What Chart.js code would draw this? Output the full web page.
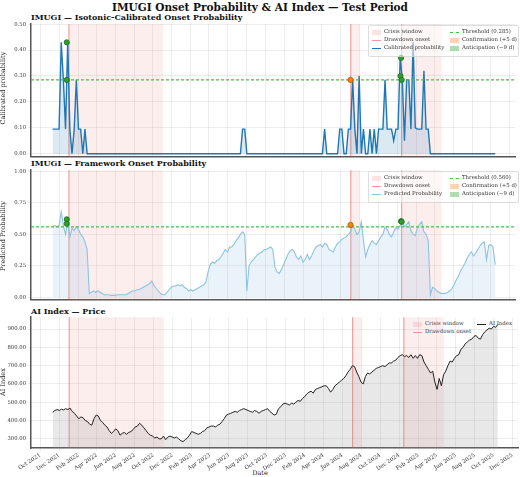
<!DOCTYPE html>
<html><head><meta charset="utf-8">
<script src="https://cdn.jsdelivr.net/npm/chart.js@4.4.1/dist/chart.umd.min.js"></script>
<style>
body{margin:0;width:520px;height:477px;background:#fff;position:relative;font-family:"DejaVu Serif",serif;overflow:hidden}
canvas{position:absolute;left:0}
#c3{z-index:2}
.t{position:absolute;font-weight:bold;color:#111;white-space:nowrap}
.yt{position:absolute;font-size:6.5px;color:#222;transform:rotate(-90deg);transform-origin:center;white-space:nowrap}
.lg{position:absolute;background:rgba(255,255,255,0.55);border:1px solid rgba(200,200,200,0.6);border-radius:2px;font-size:5.4px;color:#333;z-index:1}
.it{position:absolute;white-space:nowrap}
.sw{position:absolute;display:inline-block}
</style></head><body>
<div class="t" style="left:0;width:520px;text-align:center;top:1px;font-size:10.5px">IMUGI Onset Probability &amp; AI Index — Test Period</div>
<div class="t" style="left:31px;top:12px;font-size:8px">IMUGI — Isotonic-Calibrated Onset Probability</div>
<div class="t" style="left:31px;top:158px;font-size:8px">IMUGI — Framework Onset Probability</div>
<div class="t" style="left:31px;top:306px;font-size:8px">AI Index — Price</div>
<canvas id="c1" width="520" height="143" style="top:19px;width:520px;height:143px"></canvas>
<canvas id="c2" width="520" height="140" style="top:165px;width:520px;height:140px"></canvas>
<canvas id="c3" width="520" height="160" style="top:312px;width:520px;height:160px"></canvas>
<div class="yt" style="left:-37px;top:84px;width:80px;text-align:center">Calibrated probability</div>
<div class="yt" style="left:-37px;top:232px;width:80px;text-align:center">Predicted Probability</div>
<div class="yt" style="left:-37px;top:378px;width:80px;text-align:center">AI Index</div>
<div style="position:absolute;left:0;width:520px;text-align:center;top:469px;font-size:6.5px;color:#222">Date</div>
<div id="legends"></div>
<script>
const startDate='2021-11-10', stepDays=7;
const price=[445,455,460,455,462,458,465,460,468,450,440,425,410,420,415,400,395,380,375,410,430,425,400,390,375,365,345,330,340,355,345,320,330,335,325,335,340,350,365,370,385,375,360,345,330,320,315,305,310,300,300,315,295,310,315,310,305,310,300,290,285,295,305,320,340,335,330,325,330,340,345,360,365,370,370,365,375,380,395,410,430,435,440,445,450,445,455,460,465,460,455,450,445,455,450,440,450,455,460,465,450,440,430,435,465,475,490,495,490,485,495,490,500,510,505,520,530,545,555,560,550,570,575,580,585,590,590,575,555,570,590,600,610,620,630,645,665,680,700,695,665,640,610,600,640,660,655,665,675,685,690,695,700,695,705,715,715,725,730,745,755,760,750,755,745,760,740,755,740,760,755,720,700,680,660,670,610,570,630,590,650,670,700,725,720,740,755,760,790,800,820,830,840,845,860,865,850,845,870,885,895,905,900,915,910,925];
const predicted=[.56,.57,.56,.57,.68,.57,.50,.60,.48,.55,.53,.56,.54,.50,.48,.44,.38,.03,.04,.05,.04,.05,.04,.03,.02,.02,.02,.015,.015,.015,.02,.02,.02,.02,.02,.03,.04,.05,.05,.06,.06,.07,.08,.09,.10,.11,.13,.09,.07,.05,.03,.02,.02,.04,.06,.08,.09,.09,.10,.09,.10,.08,.07,.05,.06,
.05,.06,.07,.08,.09,.10,.12,.20,.26,.28,.27,.29,.30,.32,.35,.38,.36,.40,.40,.42,.45,.47,.50,.52,.50,.05,.25,.28,.30,.32,.34,.35,.36,.38,.38,.39,.40,.38,.24,.20,.19,.22,.26,.30,.34,.37,.38,.36,.32,.30,.33,.28,.30,.34,.30,.33,.37,.40,.41,.42,.40,.43,.42,.38,.37,.36,.40,.43,.44,.46,.47,.48,.50,.52,.57,.54,.50,.52,.60,.45,.32,.38,.42,.45,.43,.42,.45,.48,.50,.56,.54,.50,.48,.52,.55,.54,.57,.60,.56,.58,.60,.53,.50,.49,.55,.58,.60,.52,.50,.45,.02,.08,.07,.05,.04,.03,.03,.03,.04,.05,.07,.10,.14,.17,.21,.24,.27,.31,.34,.36,.33,.35,.38,.41,.43,.44,.30,.41,.42,.40,.26];
const calibrated=[.095,.095,.095,.095,.43,.285,.095,.43,.095,0,.095,.285,.095,.095,0,.095,0,0,0,0,0,0,0,0,0,0,0,0,0,0,0,0,0,0,0,0,0,0,0,0,0,0,0,0,0,0,0,0,0,0,0,0,0,0,0,0,0,0,0,0,0,0,0,0,0,0,0,0,0,0,0,0,0,0,0,0,0,0,0,0,0,0,0,0,0,0,0,0,.095,.095,0,0,0,0,0,0,0,0,0,0,0,0,0,0,0,0,0,0,0,0,0,0,0,0,0,0,0,0,0,0,0,0,0,0,0,0,.095,0,0,0,0,0,0,.095,.095,0,0,.095,.095,.285,.095,0,.30,0,.095,0,0,.095,0,.095,0,.095,.095,.095,.285,.095,.095,.095,.05,.095,.095,.37,.285,.05,.285,.285,.095,.43,.10,.095,.095,.095,.32,.095,.095,0,0,0,0,0,0,0,0,0,0,0,0,0,0,0,0,0,0,0,0,0,0,0,0,0,0,0,0,0,0,0];
const crisisWindows=[['2022-01-02','2022-11-03'],['2024-07-04','2024-08-01'],['2024-12-16','2025-04-24']];
const onsets=['2022-01-02','2024-07-04','2024-12-16'];
const tickLabels=['Oct 2021','Dec 2021','Feb 2022','Apr 2022','Jun 2022','Aug 2022','Oct 2022','Dec 2022','Feb 2023','Apr 2023','Jun 2023','Aug 2023','Oct 2023','Dec 2023','Feb 2024','Apr 2024','Jun 2024','Aug 2024','Oct 2024','Dec 2024','Feb 2025','Apr 2025','Jun 2025','Aug 2025','Oct 2025','Dec 2025'];
const calThreshold=0.285, predThreshold=0.56;
const calGreen=[['2021-12-26',.43],['2021-12-26',.285],['2024-12-14',.37],['2024-12-12',.30],['2024-12-16',.285]];
const calOrange=[['2024-07-03',.285]];
const predGreen=[['2021-12-26',.62],['2021-12-26',.585],['2024-12-14',.605],['2024-12-16',.60]];
const predOrange=[['2024-07-03',.575]];

const MON={Jan:0,Feb:1,Mar:2,Apr:3,May:4,Jun:5,Jul:6,Aug:7,Sep:8,Oct:9,Nov:10,Dec:11};
const BASE=Date.UTC(2021,8,1);
const dayOf=s=>{const [y,m,d]=s.split('-').map(Number);return (Date.UTC(y,m-1,d)-BASE)/86400000;};
const startDay=dayOf(startDate);
const xs=price.map((_,i)=>startDay+i*stepDays);
const tickDays=tickLabels.map(l=>{const [m,y]=l.split(' ');return (Date.UTC(+y,MON[m],1)-BASE)/86400000;});
const pts=a=>a.map((v,i)=>({x:xs[i],y:v}));
const mk=a=>a.map(([d,v])=>({x:dayOf(d),y:v}));
Chart.defaults.font={family:'DejaVu Serif',size:6}; Chart.defaults.color='#333';

const shade={id:'shade',beforeDatasetsDraw(ch){const {ctx,chartArea:a,scales:{x}}=ch;ctx.save();
 ctx.fillStyle='rgba(240,120,120,0.13)';
 crisisWindows.forEach(([s,e])=>{const x0=x.getPixelForValue(dayOf(s)),x1=x.getPixelForValue(dayOf(e));ctx.fillRect(x0,a.top,x1-x0,a.bottom-a.top);});
 ctx.strokeStyle='rgba(220,60,60,0.55)';ctx.lineWidth=1;
 onsets.forEach(s=>{const px=x.getPixelForValue(dayOf(s));ctx.beginPath();ctx.moveTo(px,a.top);ctx.lineTo(px,a.bottom);ctx.stroke();});
 ctx.restore();}};

function make(id,datasets,ymin,ymax,step,fmt,showX){
 return new Chart(document.getElementById(id),{type:'line',data:{datasets},
 options:{animation:false,responsive:false,devicePixelRatio:1,
  layout:{padding:{left:0,right:2,top:0,bottom:0}},
  plugins:{legend:{display:false},tooltip:{enabled:false}},
  elements:{point:{radius:0}},
  scales:{
   x:{type:'linear',min:0,max:1570,
    afterBuildTicks:s=>{s.ticks=tickDays.map(v=>({value:v}));},
    afterFit:s=>{if(!showX)s.height=2;else s.height=24;},
    ticks:{display:showX,autoSkip:false,minRotation:33,maxRotation:33,padding:1,font:{family:'DejaVu Serif',size:5.5},
      callback:(v,i)=>tickLabels[i]},
    grid:{color:'rgba(0,0,0,0.07)',drawTicks:showX,tickLength:3},
    border:{color:'#555',width:1.5}},
   y:{min:ymin,max:ymax,
    afterBuildTicks:s=>{const t=[];for(let v=step.from;v<=step.to+1e-9;v+=step.by)t.push({value:v});s.ticks=t;},
    afterFit:s=>{s.width=31;},
    ticks:{callback:fmt,padding:2,font:{family:'DejaVu Serif',size:5.3}},
    grid:{color:'rgba(0,0,0,0.07)',tickLength:3},
    border:{color:'#555',width:1.5}}}},
 plugins:[shade]});
}
const thr=v=>({data:[{x:0,y:v},{x:1570,y:v}],borderColor:'#4cbb4c',borderWidth:1.2,borderDash:[3,2],fill:false,pointRadius:0});
const sc=(d,c,b)=>({type:'scatter',data:d,backgroundColor:c,borderColor:b,borderWidth:0.8,pointRadius:2.6});

make('c1',[
 sc(mk(calGreen),'#2ca02c','#1a6e1a'),sc(mk(calOrange),'#ff7f0e','#b35400'),
 thr(calThreshold),
 {data:pts(calibrated),borderColor:'#1f77b4',borderWidth:1.4,fill:'origin',backgroundColor:'rgba(31,119,180,0.16)',tension:0}
],-0.012,0.5,{from:0,to:0.5,by:0.1},v=>v.toFixed(2),false);

make('c2',[
 sc(mk(predGreen),'#2ca02c','#1a6e1a'),sc(mk(predOrange),'#ff7f0e','#b35400'),
 thr(predThreshold),
 {data:pts(predicted),borderColor:'#8ec3e0',borderWidth:1.1,fill:'origin',backgroundColor:'rgba(140,190,225,0.18)',tension:0}
],-0.02,1.01,{from:0,to:1,by:0.25},v=>v.toFixed(2),false);

make('c3',[
 {data:pts(price),borderColor:'#222',borderWidth:1,fill:{target:{value:250}},backgroundColor:'rgba(150,150,150,0.22)',tension:0}
],250,965,{from:300,to:900,by:100},v=>v.toFixed(2),true);

function legend(left,top,w,h,items,style){
 let html=`<div class="lg" style="left:${left}px;top:${top}px;width:${w}px;height:${h}px;${style||''}">`;
 items.forEach(([x,y,kind,col,txt])=>{
  let sw='';
  if(kind==='box')sw=`<span class="sw" style="left:${x}px;top:${y+1}px;width:9px;height:5px;background:${col}"></span>`;
  else if(kind==='line')sw=`<span class="sw" style="left:${x}px;top:${y+3}px;width:9px;height:0;border-top:1.3px solid ${col}"></span>`;
  else sw=`<span class="sw" style="left:${x}px;top:${y+3}px;width:9px;height:0;border-top:1.3px dashed ${col}"></span>`;
  html+=sw+`<span class="it" style="left:${x+12}px;top:${y-1}px">${txt}</span>`;
 });
 document.getElementById('legends').innerHTML+=html+'</div>';
}
legend(368,25,149,30,[[3,3,'box','rgba(240,120,120,0.2)','Crisis window'],[3,11,'line','rgba(220,60,60,0.5)','Drawdown onset'],[3,19,'line','#1f77b4','Calibrated probability'],
 [81,3,'dash','#4cbb4c','Threshold (0.285)'],[81,11,'box','rgba(255,160,90,0.45)','Confirmation (+5 d)'],[81,19,'box','rgba(60,170,60,0.4)','Anticipation (−9 d)']]);
legend(368,171,149,30,[[3,3,'box','rgba(240,120,120,0.2)','Crisis window'],[3,11,'line','rgba(220,60,60,0.5)','Drawdown onset'],[3,19,'line','#8ec3e0','Predicted Probability'],
 [81,3,'dash','#4cbb4c','Threshold (0.560)'],[81,11,'box','rgba(255,160,90,0.45)','Confirmation (+5 d)'],[81,19,'box','rgba(60,170,60,0.4)','Anticipation (−9 d)']]);
legend(410,318,108,20,[[3,3,'box','rgba(240,120,120,0.2)','Crisis window'],[3,11,'line','rgba(220,60,60,0.5)','Drawdown onset'],[67,3,'line','#222','AI Index']],'background:transparent;border:none');
</script></body></html>
